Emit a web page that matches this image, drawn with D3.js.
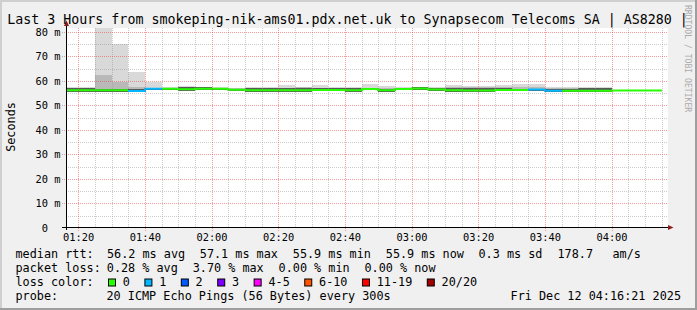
<!DOCTYPE html>
<html><head><meta charset="utf-8">
<script src="https://cdn.jsdelivr.net/npm/d3@7"></script>
<style>html,body{margin:0;padding:0;background:#f0f0f0;overflow:hidden}svg{display:block}text{white-space:pre}</style>
</head><body>
<script>
// ---------------- data ----------------
const titleText = "Last 3 Hours from smokeping-nik-ams01.pdx.net.uk to Synapsecom Telecoms SA | AS8280 |";
const rangeStart = "2025-12-12 01:16:21";
const rangeEnd   = "2025-12-12 04:16:21";
const stepStarts = ["01:15","01:20","01:25","01:30","01:35","01:40","01:45","01:50","01:55",
  "02:00","02:05","02:10","02:15","02:20","02:25","02:30","02:35","02:40","02:45","02:50","02:55",
  "03:00","03:05","03:10","03:15","03:20","03:25","03:30","03:35","03:40","03:45","03:50","03:55",
  "04:00","04:05","04:10"];
// median rtt (ms)
const medianRtt = [56.2,56.2,56.2,56.2,55.9,56.8,56.8,56.6,56.8,
  56.8,56.4,56.2,56.2,56.2,56.2,56.3,56.3,56.2,56.7,56.2,56.7,
  56.9,56.5,56.2,56.1,56.1,56.3,56.3,56.5,56.0,56.0,56.0,56.0,
  56.1,56.1,56.1];
// lost pings out of 20
const lostPings = [0,0,0,0,1,1,0,0,0, 0,0,0,0,0,0,0,0,0,0,0,0, 0,0,0,0,0,0,0,1,1,0,0,0, 0,0,0];
// smoke envelope (ms): max ping, upper inner ping, core (pings next to median) top, min ping
const smokeMax = [57.4,57.4,83.0,75.2,63.8,59.7,57.5,58.0,57.6,
  57.5,57.3,57.6,57.6,58.4,57.7,58.3,57.5,57.6,58.8,58.0,57.5,
  57.4,57.6,58.5,58.0,58.0,58.2,58.8,58.8,57.4,57.4,57.4,57.4,
  null,null,null];
const smokeUpper = [57.0,57.1,62.4,59.4,57.6,57.3,57.2,57.4,57.2,
  57.2,57.0,57.3,57.3,57.3,57.4,57.3,57.2,57.2,57.3,57.2,57.2,
  57.3,57.2,57.6,57.6,57.6,57.5,57.5,57.5,57.0,57.0,57.1,57.1,
  null,null,null];
const smokeCoreTop = [57.1,57.1,56.8,56.8,56.8,57.2,57.2,57.4,57.4,
  57.2,56.8,57.1,57.1,57.1,57.0,57.0,57.1,57.1,57.0,56.7,57.0,
  57.4,57.1,57.3,57.3,57.3,57.1,56.8,56.9,56.9,56.9,57.1,57.1,
  null,null,null];
const smokeMin = [55.8,55.8,55.8,55.8,55.5,56.3,56.2,56.1,56.3,
  56.3,56.0,55.8,55.8,55.8,55.8,55.9,55.9,55.8,56.2,55.8,56.3,
  56.4,56.0,55.8,55.7,55.7,55.9,55.9,56.0,55.6,55.6,55.6,55.6,
  null,null,null];
const yTickValues = [0,10,20,30,40,50,60,70,80];
const xTickLabels = ["01:20","01:40","02:00","02:20","02:40","03:00","03:20","03:40","04:00"];
const lossLabels = ["0","1","2","3","4-5","6-10","11-19","20/20"];
const lossColors = ["#26ff00","#00b8ff","#0059ff","#7e00ff","#ff00ff","#ff5500","#ff0000","#a10000"];
const lossUpper  = [0,1,2,3,5,10,19,20];
const rttStats  = ["56.2 ms avg","57.1 ms max","55.9 ms min","55.9 ms now","0.3 ms sd","178.7","am/s"];
const lossStats = ["0.28 % avg","3.70 % max","0.00 % min","0.00 % now"];
const probeText = "20 ICMP Echo Pings (56 Bytes) every 300s";
const dateText  = "Fri Dec 12 04:16:21 2025";

// ---------------- layout ----------------
const W = 697, H = 310;
const PL = 66, PR = 666, PT = 28, PB = 228;
const upperLimit = 81.6;
const MONO = "DejaVu Sans Mono";

const parse = d3.timeParse("%Y-%m-%d %H:%M:%S");
const parseHM = s => parse("2025-12-12 " + s + ":00");
const t0 = parse(rangeStart), t1 = parse(rangeEnd);
const x = d3.scaleTime().domain([t0, t1]).range([PL, PR]);
const y = d3.scaleLinear().domain([0, upperLimit]).range([PB, PT]);
const snap = v => Math.round(v) + 0.5;

const svg = d3.select("body").append("svg").attr("width", W).attr("height", H);
svg.append("rect").attr("width", W).attr("height", H).attr("fill", "#f0f0f0");
svg.append("rect").attr("x",0).attr("y",0).attr("width",W).attr("height",2).attr("fill","#cfcfcf");
svg.append("rect").attr("x",0).attr("y",0).attr("width",2).attr("height",H).attr("fill","#cfcfcf");
svg.append("rect").attr("x",0).attr("y",H-2).attr("width",W).attr("height",2).attr("fill","#9e9e9e");
svg.append("rect").attr("x",W-2).attr("y",0).attr("width",2).attr("height",H).attr("fill","#9e9e9e");

// canvas
svg.append("rect").attr("x", PL).attr("y", PT).attr("width", PR - PL + 2).attr("height", PB - PT).attr("fill", "#fff");
svg.append("defs").append("clipPath").attr("id","clip")
  .append("rect").attr("x", PL).attr("y", PT).attr("width", PR - PL + 2).attr("height", PB - PT);

// steps
const steps = stepStarts.map((s, i) => {
  const a = parseHM(s), b = d3.timeMinute.offset(a, 5);
  const x0 = Math.max(x(a), x(t0)), x1 = Math.min(x(b), x(t1));
  const li = lossUpper.findIndex(u => lostPings[i] <= u);
  return {x0: Math.round(x0), x1: Math.round(x1), med: medianRtt[i], li,
          max: smokeMax[i], up: smokeUpper[i], core: smokeCoreTop[i], min: smokeMin[i]};
});

const gData = svg.append("g").attr("clip-path", "url(#clip)").attr("shape-rendering", "crispEdges");
const sm = steps.filter(d => d.max != null);
function band(cls, top, bot, fill) {
  gData.selectAll("rect." + cls).data(sm).join("rect").attr("class", cls)
    .attr("x", d => d.x0).attr("width", d => d.x1 - d.x0)
    .attr("y", d => Math.round(y(top(d))))
    .attr("height", d => Math.max(0, Math.round(y(bot(d))) - Math.round(y(top(d)))))
    .attr("fill", fill);
}
band("outer", d => d.max, d => d.min, "#d9d9d9");
band("mid", d => d.up, d => d.min, "#b9b9b9");
band("core", d => d.core, d => d.med - 0.6, "#585858");

// median line in runs of the same loss colour
const runs = [];
steps.forEach(d => {
  const last = runs[runs.length - 1];
  if (last && last.li === d.li) last.pts.push(d); else runs.push({li: d.li, pts: [d]});
});
const line = d3.line();
runs.forEach(r => {
  const pts = [];
  r.pts.forEach(d => { pts.push([d.x0, y(d.med)]); pts.push([d.x1, y(d.med)]); });
  svg.append("path").attr("d", line(pts)).attr("fill", "none")
    .attr("stroke", lossColors[r.li]).attr("stroke-width", 2);
});

// grid (on top)
const gGrid = svg.append("g").attr("shape-rendering", "crispEdges").attr("stroke-dasharray", "1,1");
const minorY = d3.range(5, 81, 10);
gGrid.selectAll("line.hmin").data(minorY).join("line")
  .attr("x1", PL).attr("x2", PR + 2).attr("y1", d => snap(y(d))).attr("y2", d => snap(y(d)))
  .attr("stroke", "rgba(143,143,143,0.45)");
const minorX = d3.timeMinute.every(5).range(t0, t1).filter(t => t.getMinutes() % 20 !== 0);
gGrid.selectAll("line.vmin").data(minorX).join("line")
  .attr("x1", d => snap(x(d))).attr("x2", d => snap(x(d))).attr("y1", PT).attr("y2", PB)
  .attr("stroke", "rgba(143,143,143,0.45)");
gGrid.selectAll("line.hmaj").data(yTickValues.filter(v => v > 0)).join("line")
  .attr("x1", PL - 4).attr("x2", PR + 2).attr("y1", d => snap(y(d))).attr("y2", d => snap(y(d)))
  .attr("stroke", "rgba(235,60,60,0.5)");
const majorX = xTickLabels.map(parseHM);
gGrid.selectAll("line.vmaj").data(majorX).join("line")
  .attr("x1", d => snap(x(d))).attr("x2", d => snap(x(d))).attr("y1", PT).attr("y2", PB + 3)
  .attr("stroke", "rgba(235,60,60,0.5)");

// axes
const gAx = svg.append("g").attr("shape-rendering", "crispEdges");
gAx.append("line").attr("x1", PL - 4).attr("x2", PR + 3).attr("y1", snap(y(0)) - 1).attr("y2", snap(y(0)) - 1)
  .attr("stroke", "#000");
gAx.append("line").attr("x1", PL + 0.5).attr("x2", PL + 0.5).attr("y1", PB + 2).attr("y2", PT - 3)
  .attr("stroke", "#000");
svg.append("path").attr("d", `M${PL - 2},${PT - 2}L${PL + 0.5},${PT - 7.5}L${PL + 3},${PT - 2}Z`).attr("fill", "#8b1a1a");
svg.append("path").attr("d", `M${PR + 2},${PB - 3}L${PR + 7.5},${PB - 0.5}L${PR + 2},${PB + 2}Z`).attr("fill", "#8b1a1a");

// tick labels
const axisFont = 10.35;
svg.append("g").selectAll("text").data(yTickValues).join("text")
  .attr("x", 60.5).attr("y", d => y(d) + 3.7).attr("text-anchor", "end")
  .attr("font-family", MONO).attr("font-size", axisFont).attr("fill", "#000")
  .text(d => d === 0 ? "0  " : d + " m");
svg.append("g").selectAll("text").data(majorX).join("text")
  .attr("x", d => x(d) + 0.5).attr("y", 241).attr("text-anchor", "middle")
  .attr("font-family", MONO).attr("font-size", axisFont).attr("fill", "#000")
  .text((d, i) => xTickLabels[i]);

// title, y label, watermark
svg.append("text").attr("x", 7.3).attr("y", 23.8).attr("font-family", MONO).attr("font-size", 13.3)
  .attr("fill", "#000").text(titleText);
svg.append("text").attr("transform", "translate(14.5,127) rotate(-90)").attr("text-anchor", "middle")
  .attr("font-family", MONO).attr("font-size", 11.8).attr("fill", "#000").text("Seconds");
svg.append("text").attr("transform", "translate(684.5,5) rotate(90)")
  .attr("font-family", MONO).attr("font-size", 8.1).attr("fill", "#ababab").text("RRDTOOL / TOBI OETIKER");

// legend
const LF = 11.8;
const leg = svg.append("g").attr("font-family", MONO).attr("font-size", LF).attr("fill", "#000");
const row1x = [107, 199.8, 292.8, 385.8, 478.5, 557.5, 612.5];
const row2x = [106.8, 192.7, 278.6, 364.5];
leg.append("text").attr("x", 15.5).attr("y", 258.3).text("median rtt:");
rttStats.forEach((s, i) => leg.append("text").attr("x", row1x[i]).attr("y", 258.3).text(s));
leg.append("text").attr("x", 15.5).attr("y", 272.2).text("packet loss:");
lossStats.forEach((s, i) => leg.append("text").attr("x", row2x[i]).attr("y", 272.2).text(s));
leg.append("text").attr("x", 15.5).attr("y", 286).text("loss color:");
let cx = 108.5;
lossLabels.forEach((lab, i) => {
  leg.append("rect").attr("x", cx).attr("y", 279).attr("width", 7).attr("height", 7)
    .attr("fill", lossColors[i]).attr("stroke", "#000").attr("stroke-width", 1);
  const t = leg.append("text").attr("x", cx + 14.3).attr("y", 286).text(lab);
  cx = cx + 14.3 + t.node().getComputedTextLength() + 15;
});
leg.append("text").attr("x", 15.5).attr("y", 300).text("probe:");
leg.append("text").attr("x", 106.5).attr("y", 300).text(probeText);
leg.append("text").attr("x", 681).attr("y", 300).attr("text-anchor", "end").text(dateText);
</script>
</body></html>
